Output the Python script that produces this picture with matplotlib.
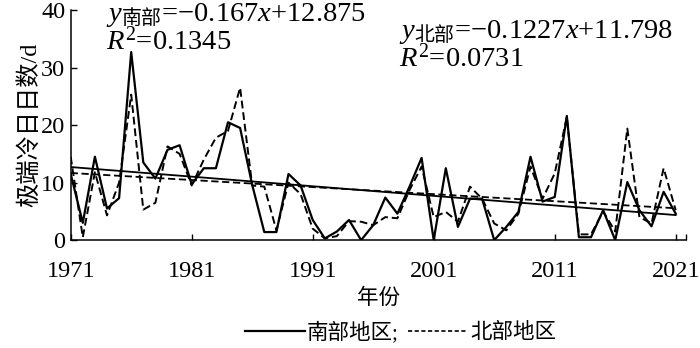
import numpy as np
import matplotlib
matplotlib.use("Agg")
import matplotlib.pyplot as plt

plt.rcParams['font.family'] = ['Liberation Serif', 'Noto Sans CJK SC']
plt.rcParams['mathtext.fontset'] = 'custom'
plt.rcParams['mathtext.it'] = 'Liberation Serif:italic'
plt.rcParams['mathtext.rm'] = 'Noto Sans CJK SC'
plt.rcParams['mathtext.sf'] = 'Liberation Serif'
plt.rcParams['axes.unicode_minus'] = False

years = np.arange(1971, 2022)

# 南部地区 极端冷日日数
south = [11.5, 3.0, 14.5, 5.5, 7.3, 32.7, 13.5, 10.7, 15.7, 16.5,
         9.7, 12.5, 12.5, 20.5, 19.5, 9.6, 1.4, 1.4, 11.5, 9.5,
         3.5, 0.3, 1.5, 3.5, 0.0, 2.6, 7.4, 4.6, 9.3, 14.3,
         0.0, 12.5, 2.3, 7.2, 7.2, 0.0, 2.3, 4.9, 14.5, 6.7,
         7.5, 21.6, 0.5, 0.5, 5.2, 0.0, 10.1, 5.2, 2.4, 8.4,
         4.6]
# 北部地区
north = [14.5, 0.5, 11.8, 4.3, 10.0, 25.3, 5.3, 6.5, 16.3, 15.0,
         9.5, 14.0, 17.8, 19.0, 26.5, 9.5, 9.3, 1.7, 10.0, 8.0,
         2.0, 0.3, 0.7, 3.3, 3.2, 2.6, 4.0, 3.8, 8.7, 12.8,
         4.0, 4.9, 3.2, 9.3, 7.2, 2.9, 1.7, 4.6, 12.8, 7.2,
         11.6, 21.4, 1.0, 1.0, 5.0, 1.5, 19.4, 4.0, 2.9, 12.5,
         5.2]

# 趋势线系数 (x = 1..51)
south_k, south_b = -0.167, 12.875
north_k, north_b = -0.1227, 11.798

xticks = [1971, 1981, 1991, 2001, 2011, 2021]

fig = plt.figure(figsize=(7, 3.48), dpi=100)
ax = fig.add_axes([0.101, 0.31, 0.879, 0.661])

t = years - 1970
ax.plot(years, south, color='black', lw=1.6, ls='-')
ax.plot(years, north, color='black', lw=1.4, ls=(0, (4, 2)))
ax.plot(years, south_k * t + south_b, color='black', lw=1.3, ls='-')
ax.plot(years, north_k * t + north_b, color='black', lw=1.3, ls=(0, (4, 2)))

ax.set_xlim(1971, 2021.85)
ax.set_ylim(0, 40)
ax.set_xticks(xticks)
ax.set_xticks([2021.85], minor=True)
ax.set_yticks([0, 10, 20, 30, 40])
ax.tick_params(which='both', direction='in', length=4, width=1, labelsize=17.5)
ax.tick_params(axis='x', pad=15)
ax.tick_params(axis='y', pad=4)
for s in ['top', 'right']:
    ax.spines[s].set_visible(False)
for s in ['left', 'bottom']:
    ax.spines[s].set_linewidth(1.1)

ax.set_xlabel('年份', fontsize=15.5, labelpad=5)
ax.set_ylabel('极端冷日日数/d', fontsize=17.5, labelpad=0)

ax.text(0.058, 1.04, r'$y_{\mathrm{南部}}$=−0.167$x$+12.875', transform=ax.transAxes,
        fontsize=20.5, va='top', ha='left')
ax.text(0.058, 0.925, r'$R^{\mathsf{2}}$=0.1345', transform=ax.transAxes,
        fontsize=20.5, va='top', ha='left')
ax.text(0.533, 0.965, r'$y_{\mathrm{北部}}$=−0.1227$x$+11.798', transform=ax.transAxes,
        fontsize=20.5, va='top', ha='left')
ax.text(0.533, 0.85, r'$R^{\mathsf{2}}$=0.0731', transform=ax.transAxes,
        fontsize=20.5, va='top', ha='left')

h1, = ax.plot([], [], color='black', lw=1.6, ls='-')
h2, = ax.plot([], [], color='black', lw=1.2, ls=(0, (2.5, 1.5)))
fig.legend([h1, h2], ['南部地区;', '北部地区'], loc='center', ncol=2,
           bbox_to_anchor=(0.572, 0.045), frameon=False, fontsize=15.5,
           handlelength=2.8, handletextpad=0.1, columnspacing=0.4,
           borderaxespad=0, borderpad=0)

fig.savefig('out.png', dpi=100)
